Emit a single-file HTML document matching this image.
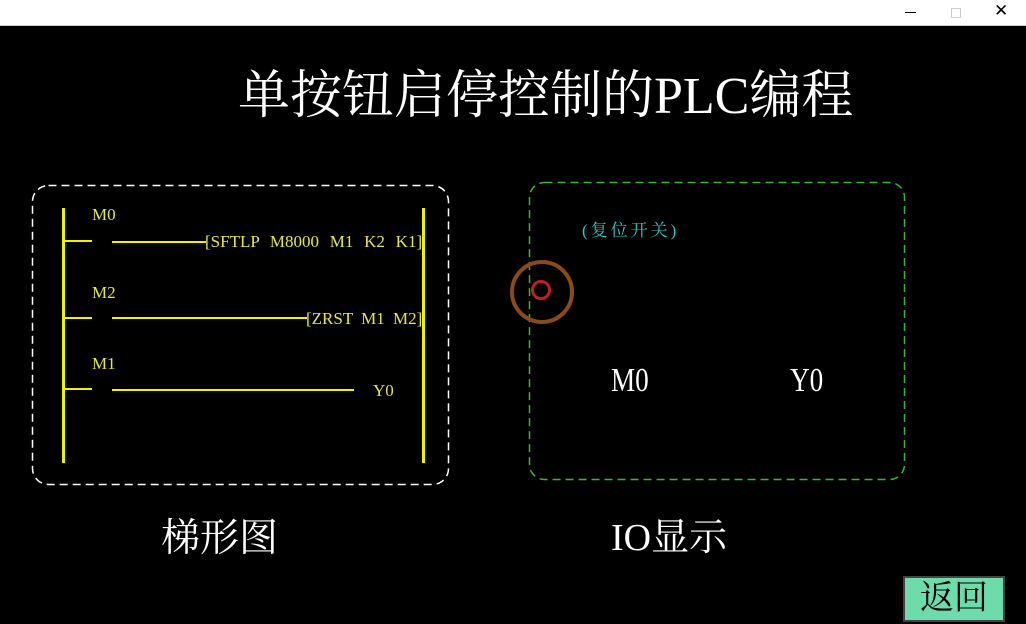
<!DOCTYPE html>
<html><head><meta charset="utf-8"><style>
body{margin:0;width:1026px;height:624px;background:#000;position:relative;overflow:hidden;font-family:"Liberation Serif","Noto Serif CJK SC",serif}
.a{position:absolute;white-space:nowrap;line-height:1}
.y{color:#e6e64a;font-size:17px;word-spacing:5px}
.r{position:absolute;background:#f2f200}
</style></head><body>
<div class="a" style="left:0;top:0;width:1026px;height:25px;background:#fff;border-bottom:1px solid #ccc"></div>
<div class="a" style="left:905px;top:12px;width:11px;height:1px;background:#000"></div>
<div class="a" style="left:951px;top:8px;width:8px;height:8px;border:1px solid #ccc"></div>
<div class="a" style="left:994px;top:3px;font-size:17px;font-family:'DejaVu Sans';color:#000">✕</div>
<div class="a" style="left:238px;top:71px;font-size:52px;color:#fff">单按钮启停控制的PLC编程</div>

<svg class="a" style="left:0;top:0" width="1026" height="624">
<rect x="32.5" y="185.5" width="416" height="299" rx="16" fill="none" stroke="#fff" stroke-width="1.5" stroke-dasharray="8,5"/>
<rect x="529.5" y="182.5" width="375" height="297" rx="15" fill="none" stroke="#3cb43c" stroke-width="1.5" stroke-dasharray="8,5"/>
</svg>
<div class="r" style="left:62px;top:208px;width:3px;height:255px"></div>
<div class="r" style="left:422px;top:208px;width:3px;height:255px"></div>
<div class="r" style="left:63px;top:240px;width:29px;height:2px"></div>
<div class="r" style="left:112px;top:241px;width:94px;height:2px"></div>
<div class="r" style="left:63px;top:317px;width:29px;height:2px"></div>
<div class="r" style="left:112px;top:317px;width:195px;height:2px"></div>
<div class="r" style="left:63px;top:388px;width:29px;height:2px"></div>
<div class="r" style="left:112px;top:389px;width:242px;height:2px"></div>
<div class="a y" style="left:92px;top:206px">M0</div>
<div class="a y" style="left:205px;top:233px;word-spacing:6.5px">[SFTLP M8000 M1 K2 K1]</div>
<div class="a y" style="left:92px;top:284px">M2</div>
<div class="a y" style="left:306px;top:310px;word-spacing:4px">[ZRST M1 M2]</div>
<div class="a y" style="left:92px;top:355px">M1</div>
<div class="a y" style="left:373px;top:382px">Y0</div>

<div class="a" style="left:582px;top:222px;font-size:17px;color:#2ec8c8;letter-spacing:3px">(复位开关)</div>
<div class="a" style="left:510px;top:260px;width:56px;height:56px;border:4px solid #8b4a1c;border-radius:50%"></div>
<div class="a" style="left:531px;top:280px;width:14px;height:14px;border:3px solid #c02020;border-radius:50%"></div>
<div class="a" style="left:611px;top:364px;font-size:34px;color:#fff;transform:scaleX(0.8);transform-origin:left">M0</div>
<div class="a" style="left:790px;top:364px;font-size:34px;color:#fff;transform:scaleX(0.8);transform-origin:left">Y0</div>

<div class="a" style="left:161px;top:519px;font-size:39px;color:#fff">梯形图</div>
<div class="a" style="left:611px;top:519px;font-size:38px;color:#fff">IO显示</div>

<div class="a" style="left:903px;top:576px;width:98px;height:42px;background:#6edcaa;border:2px solid #444;font-size:34px;color:#000;text-align:center;line-height:42px">返回</div>
</body></html>
